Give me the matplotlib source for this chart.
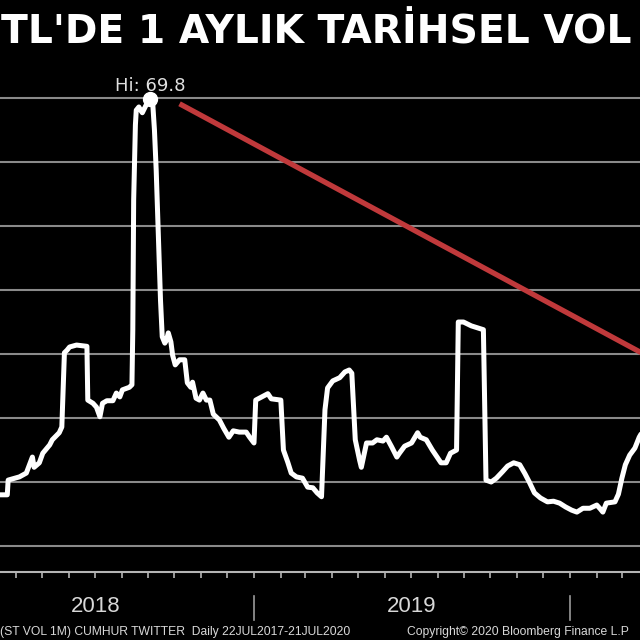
import matplotlib
matplotlib.use("Agg")
import matplotlib.pyplot as plt
import matplotlib.dates as mdates
import matplotlib.transforms as mtransforms
import pandas as pd

# ---------------- data ----------------
vol_dates = [
    "2018-03-10", "2018-03-22", "2018-03-23", "2018-04-05", "2018-04-13", "2018-04-20",
    "2018-04-22", "2018-04-28", "2018-05-02", "2018-05-10", "2018-05-13", "2018-05-21",
    "2018-05-24", "2018-05-27", "2018-05-30", "2018-06-02", "2018-06-10", "2018-06-22",
    "2018-06-23", "2018-06-29", "2018-07-03", "2018-07-07", "2018-07-10", "2018-07-15",
    "2018-07-22", "2018-07-26", "2018-07-30", "2018-08-02", "2018-08-10", "2018-08-13",
    "2018-08-14", "2018-08-15", "2018-08-17", "2018-08-18", "2018-08-21", "2018-08-23",
    "2018-08-25", "2018-08-29", "2018-09-03", "2018-09-06", "2018-09-08", "2018-09-10",
    "2018-09-13", "2018-09-15", "2018-09-17", "2018-09-20", "2018-09-22", "2018-09-24",
    "2018-09-27", "2018-09-29", "2018-10-02", "2018-10-07", "2018-10-13", "2018-10-16",
    "2018-10-20", "2018-10-22", "2018-10-26", "2018-10-30", "2018-11-03", "2018-11-07",
    "2018-11-11", "2018-11-15", "2018-11-22", "2018-11-27", "2018-12-03", "2018-12-08",
    "2018-12-15", "2018-12-23", "2018-12-27", "2019-01-01", "2019-01-03", "2019-01-10",
    "2019-01-17", "2019-01-21", "2019-02-01", "2019-02-04", "2019-02-09", "2019-02-13",
    "2019-02-19", "2019-02-26", "2019-03-04", "2019-03-10", "2019-03-15", "2019-03-20",
    "2019-03-24", "2019-03-27", "2019-04-02", "2019-04-10", "2019-04-16", "2019-04-21",
    "2019-04-24", "2019-04-28", "2019-05-03", "2019-05-05", "2019-05-11", "2019-05-18",
    "2019-05-23", "2019-05-30", "2019-06-03", "2019-06-09", "2019-06-15", "2019-06-18",
    "2019-06-24", "2019-07-02", "2019-07-09", "2019-07-12", "2019-07-19", "2019-07-26",
    "2019-08-01", "2019-08-05", "2019-08-11", "2019-08-16", "2019-08-23", "2019-08-25",
    "2019-08-31", "2019-09-09", "2019-09-23", "2019-09-26", "2019-10-02", "2019-10-08",
    "2019-10-15", "2019-10-21", "2019-10-28", "2019-11-04", "2019-11-10", "2019-11-15",
    "2019-11-21", "2019-11-28", "2019-12-06", "2019-12-13", "2019-12-20", "2019-12-27",
    "2020-01-03", "2020-01-09", "2020-01-16", "2020-01-24", "2020-02-01", "2020-02-05",
    "2020-02-08", "2020-02-12", "2020-02-22", "2020-02-26", "2020-03-01", "2020-03-05",
    "2020-03-10", "2020-03-16", "2020-03-21", "2020-03-27",
]
vol_values = [
    8.0, 8.0, 10.3, 10.8, 11.4, 13.9,
    12.3, 13.0, 14.5, 15.8, 16.6, 17.7,
    18.6, 30.2, 30.6, 31.1, 31.4, 31.2,
    22.8, 22.3, 21.7, 20.2, 22.3, 22.7,
    22.7, 23.9, 23.3, 24.4, 24.8, 25.2,
    33.8, 54.1, 65.8, 68.1, 68.6, 68.1,
    67.7, 68.8, 69.8, 69.2, 65.0, 58.8,
    46.3, 38.4, 32.7, 31.7, 32.2, 33.3,
    31.9, 29.8, 28.3, 29.1, 29.1, 25.5,
    24.8, 25.6, 23.1, 22.8, 23.9, 22.8,
    22.8, 20.6, 19.7, 18.4, 17.0, 18.0,
    17.8, 17.8, 17.0, 16.1, 22.8, 23.3,
    23.8, 23.0, 22.8, 15.0, 13.1, 11.4,
    10.8, 10.6, 9.2, 9.1, 8.3, 7.7,
    21.3, 24.7, 25.8, 26.3, 27.2, 27.5,
    27.0, 16.6, 13.4, 12.3, 16.1, 16.1,
    16.6, 16.4, 17.0, 15.5, 13.9, 14.5,
    15.6, 16.1, 17.7, 17.0, 16.6, 15.0,
    13.8, 13.0, 13.0, 14.5, 15.0, 35.0,
    35.0, 34.4, 33.8, 10.3, 10.0, 10.6,
    11.6, 12.5, 13.0, 12.7, 11.3, 10.0,
    8.3, 7.5, 6.9, 7.0, 6.7, 6.1,
    5.6, 5.3, 5.9, 5.9, 6.4, 5.8,
    5.3, 6.7, 6.9, 8.1, 10.6, 12.7,
    14.2, 15.3, 17.0, 18.4,
]
hi_date = "2018-09-03"
hi_value = 69.8
trend_dates = ["2018-10-07", "2020-04-13"]
trend_values = [69.1, 28.7]
years = [2018, 2019, 2020]
grid_levels = [0, 10, 20, 30, 40, 50, 60, 70]
title = "TL'DE 1 AYLIK TARİHSEL VOL"
footer_left = "(ST VOL 1M) CUMHUR TWITTER  Daily 22JUL2017-21JUL2020"
footer_right = "Copyright\u00a9 2020 Bloomberg Finance L.P"

# ---------------- figure ----------------
W, H = 640, 640
fig = plt.figure(figsize=(6.4, 6.4), dpi=100, facecolor="black")
ax_bottom_px, ax_top_px = 572, 60
ax = fig.add_axes([0, 1 - ax_bottom_px / H, 1, (ax_bottom_px - ax_top_px) / H])
ax.set_facecolor("black")

x = pd.to_datetime(vol_dates)
ax.set_xlim(pd.Timestamp("2018-03-13 14:00"), pd.Timestamp("2020-03-21 22:00"))
ax.set_ylim(-4.06, 75.94)

for g in grid_levels:
    ax.axhline(g, color="#8a8a8a", lw=1.5, zorder=1)

ax.plot(pd.to_datetime(trend_dates), trend_values, color="#c0393b", lw=3.8,
        solid_capstyle="butt", zorder=2)
ax.plot(x, vol_values, color="white", lw=3.6, solid_joinstyle="round",
        solid_capstyle="round", zorder=3)
ax.plot([pd.Timestamp(hi_date)], [hi_value], "o", color="white", ms=10, zorder=4)
ax.annotate(f"Hi: {hi_value}", (pd.Timestamp(hi_date), hi_value), xytext=(0, 3),
            textcoords="offset points", ha="center", va="bottom", color="#e0e0e0",
            fontsize=13, family="DejaVu Sans", zorder=5)

# axes styling
for s in ["top", "left", "right"]:
    ax.spines[s].set_visible(False)
ax.spines["bottom"].set_color("#b4b4b4")
ax.spines["bottom"].set_linewidth(1.5)
ax.set_yticks([])
ax.xaxis.set_major_locator(mdates.MonthLocator())
ax.tick_params(axis="x", direction="out", length=4, width=1.2, color="#b4b4b4",
               labelbottom=False)

# year labels and separators
trans = mtransforms.blended_transform_factory(ax.transData, fig.transFigure)
xmin, xmax = ax.get_xlim()
for yr in years:
    start = mdates.date2num(pd.Timestamp(f"{yr}-01-01"))
    mid = mdates.date2num(pd.Timestamp(f"{yr}-07-02"))
    if xmin < start < xmax:
        ax.plot([start, start], [1 - 596 / H, 1 - 620 / H], transform=trans,
                color="#9a9a9a", lw=1.2, clip_on=False)
    if xmin < mid < xmax:
        ax.text(mid, 1 - 607 / H, str(yr), transform=trans, ha="center", va="center",
                color="#d8d8d8", fontsize=16, family="Liberation Sans")

# title and footer
fig.text(1 / W, 1 - 32 / H, title, ha="left", va="center", color="white",
         fontsize=28.3, fontweight="bold", family="DejaVu Sans")
fig.text(0 / W, 1 - 632 / H, footer_left, ha="left", va="center", color="#d8d8d8",
         fontsize=8.7, family="Liberation Sans")
fig.text(407 / W, 1 - 632 / H, footer_right, ha="left", va="center", color="#d8d8d8",
         fontsize=8.7, family="Liberation Sans")

fig.savefig("out.png", dpi=100, facecolor="black")
